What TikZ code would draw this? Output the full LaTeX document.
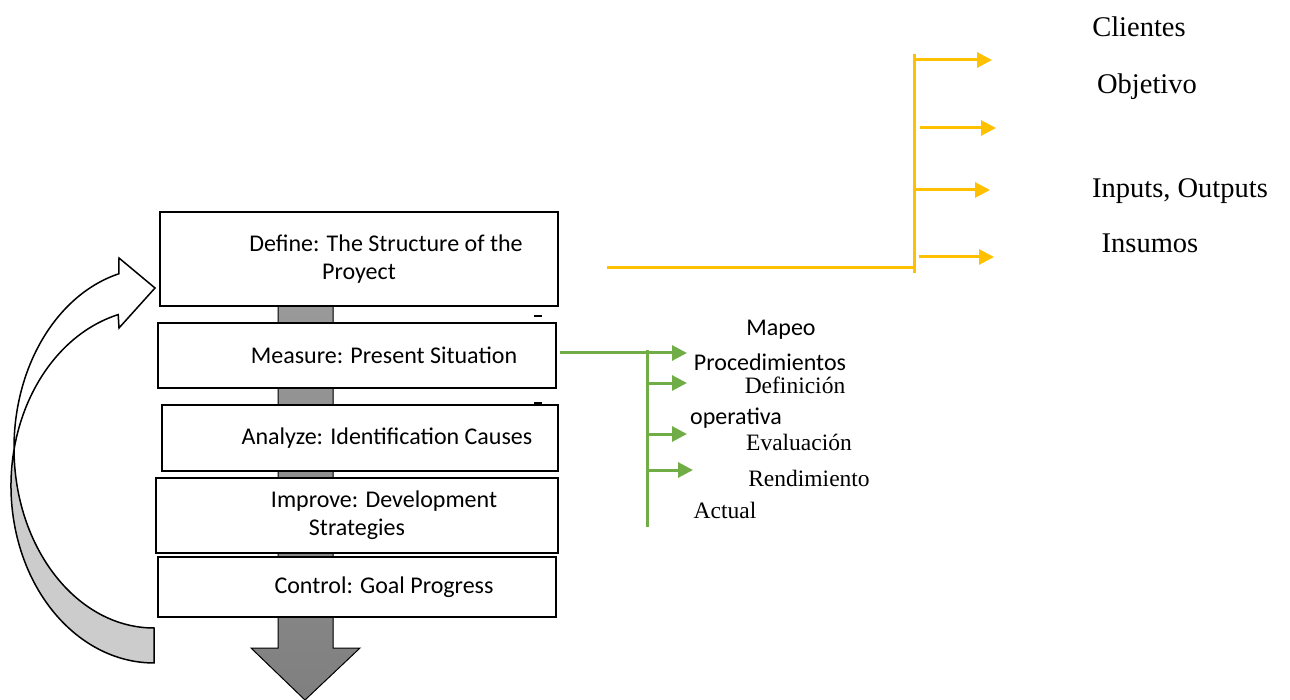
\documentclass[tikz,border=0pt]{standalone}
\usepackage{fontspec}
\setmainfont{Liberation Serif}
\newfontfamily\calibri{Carlito}
\usetikzlibrary{arrows.meta}
\definecolor{myyellow}{HTML}{FFC000}
\definecolor{mygreen}{HTML}{70AD47}
\newcommand{\ind}{\hspace*{54pt}}

\begin{document}
\begin{tikzpicture}[x=1pt,y=-1pt,
  stage/.style={draw,line width=2pt,fill=white,align=center,inner sep=0,
    font=\calibri\fontsize{24}{28}\selectfont},
  ylabel/.style={font=\fontsize{28.5}{32}\selectfont},
  glabel/.style={font=\fontsize{23.5}{28}\selectfont},
  clabel/.style={font=\calibri\fontsize{24}{28}\selectfont},
  yline/.style={myyellow,line width=3pt},
  gline/.style={mygreen,line width=3pt},
  tip/.style={-{Triangle[length=15pt,width=15pt]}}]
\useasboundingbox (0,0) rectangle (1290,700);

% gray process arrow
\filldraw[line width=1pt,top color=gray!80,bottom color=gray]
  (278,306) -- (333,306) -- (333,648) -- (360,648) -- (305,700)
  -- (251,648) -- (278,648) -- cycle;

% curved return arrow
\fill[gray!40]
  (154,663) arc[start angle=90,end angle=180,x radius=143,y radius=177]
  -- (14,448) arc[start angle=180,end angle=90,x radius=140,y radius=180] -- cycle;
\draw[line width=1.5pt,line join=miter]
  (154,628) arc[start angle=90,end angle=255.5,x radius=140,y radius=180]
  -- (119,258) -- (155,288) -- (119,328) -- (118.2,314.6)
  arc[start angle=255.5,end angle=90,x radius=143,y radius=177] -- cycle;

% DMAIC stages
\node[stage,minimum width=398,minimum height=94] (define) at (359,259)
  {\ind Define: The Structure of the\\Proyect};
\node[stage,minimum width=398,minimum height=65] (measure) at (357,355.5)
  {\ind Measure: Present Situation};
\node[stage,minimum width=396,minimum height=66] (analyze) at (360,438)
  {\ind Analyze: Identification Causes};
\node[stage,minimum width=402,minimum height=75] (improve) at (357,515.5)
  {\ind Improve: Development\\Strategies};
\node[stage,minimum width=398,minimum height=60] (control) at (357,587)
  {\ind Control: Goal Progress};

\draw[line width=2pt] (534,316) -- (542,316);
\draw[line width=2pt] (534,403) -- (542,403);

% define branch
\node[ylabel] (clientes) at (1139,27) {Clientes};
\node[ylabel] (objetivo) at (1147,87) {Objetivo};
\node[ylabel] (inputs) at (1180,191) {Inputs, Outputs};
\node[ylabel] (insumos) at (1150,243) {Insumos};

\coordinate (ystart) at (607,268);
\coordinate (ytop) at (914,54);
\coordinate (ybot) at (914,273);
\draw[yline] (ystart) -- (ybot |- ystart);
\draw[yline] (ytop) -- (ybot);
\draw[yline,tip] (916,60) -- (992,60);
\draw[yline,tip] (920,128) -- (996,128);
\draw[yline,tip] (916,190) -- (990,190);
\draw[yline,tip] (919,257) -- (994,257);

% measure branch
\node[clabel] (mapeo) at (781,330) {Mapeo};
\node[clabel] (proced) at (770,362) {Procedimientos};
\node[glabel] (defin) at (795,385) {Definición};
\node[clabel] (operat) at (736,418) {operativa};
\node[glabel] (evalua) at (799,442) {Evaluación};
\node[glabel] (rendim) at (809,478) {Rendimiento};
\node[glabel] (actual) at (725,510) {Actual};

\coordinate (gtop) at (647,350);
\coordinate (gbot) at (647,527);
\draw[gline,tip] ([xshift=3pt,yshift=2.5pt]measure.east) -- (687,353);
\draw[gline] (gtop) -- (gbot);
\draw[gline,tip] (647,383) -- (687,383);
\draw[gline,tip] (647,434) -- (687,434);
\draw[gline,tip] (647,470) -- (693,470);
\end{tikzpicture}
\end{document}
